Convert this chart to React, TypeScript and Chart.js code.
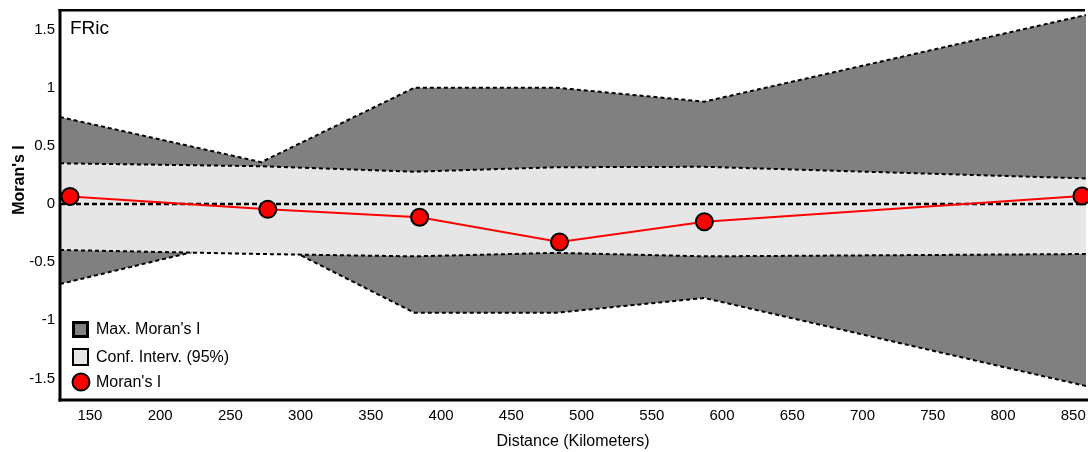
import React, { useEffect, useRef } from "react";
import { Chart, registerables } from "chart.js";

Chart.register(...registerables);

// ---- data ----
const bandDistances = [128.7, 272, 381, 482, 587.4, 859.1];
const maxMoranUpper = [0.748, 0.36, 1.0, 1.0, 0.88, 1.625];
const maxMoranLower = [-0.688, -0.27, -0.935, -0.935, -0.808, -1.565];
const confUpper = [0.35, 0.325, 0.278, 0.316, 0.32, 0.22];
const confLower = [-0.395, -0.43, -0.45, -0.42, -0.45, -0.43];
const moranDistances = [135.8, 276.6, 384.7, 484.3, 587.4, 856.2];
const moranValues = [0.065, -0.046, -0.114, -0.327, -0.152, 0.069];
const xRange = [128.7, 859.1];
const yRange = [-1.685, 1.668];
const legendLabels = ["Max. Moran's I", "Conf. Interv. (95%)", "Moran's I"];
const panelLabel = "FRic";
const xTitle = "Distance (Kilometers)";
const yTitle = "Moran's I";

const FONT = "'Liberation Sans', Arial, sans-serif";
const DARK = "#808080";
const LIGHT = "#e6e6e6";
const RED = "#ff0000";

const pts = (xs: number[], ys: number[]) => xs.map((x, i) => ({ x, y: ys[i] }));

const decorPlugin = {
  id: "decor",
  afterDatasetsDraw(chart: any) {
    const { ctx, chartArea: a } = chart;
    ctx.save();
    ctx.strokeStyle = "#000";
    ctx.setLineDash([]);
    // top border
    ctx.lineWidth = 2.5;
    ctx.beginPath();
    ctx.moveTo(a.left - 1.5, a.top + 0.3);
    ctx.lineTo(a.right - 1, a.top + 0.3);
    ctx.stroke();
    // left border
    ctx.lineWidth = 3;
    ctx.beginPath();
    ctx.moveTo(a.left, a.top - 1);
    ctx.lineTo(a.left, a.bottom + 1.5);
    ctx.stroke();
    // bottom border
    ctx.beginPath();
    ctx.moveTo(a.left - 1.5, a.bottom);
    ctx.lineTo(chart.width, a.bottom);
    ctx.stroke();
    ctx.restore();
  },
  afterDraw(chart: any) {
    const { ctx, chartArea: a } = chart;
    const ds = chart.data.datasets;
    ctx.save();
    ctx.setLineDash([]);
    // panel label
    ctx.fillStyle = "#000";
    ctx.font = `19px ${FONT}`;
    ctx.textAlign = "left";
    ctx.textBaseline = "alphabetic";
    ctx.fillText(panelLabel, a.left + 10, a.top + 24);

    // y axis title
    ctx.save();
    ctx.translate(20, 180);
    ctx.rotate(-Math.PI / 2);
    ctx.font = `bold 16px ${FONT}`;
    ctx.textAlign = "center";
    ctx.textBaseline = "middle";
    ctx.fillStyle = "#000";
    ctx.fillText(yTitle, 0, 0);
    ctx.restore();

    // legend
    const lx = a.left + 12;
    const ty = [329, 357, 382];
    ctx.fillStyle = ds[5].backgroundColor;
    ctx.fillRect(lx, ty[0] - 8, 17, 17);
    ctx.lineWidth = 3;
    ctx.strokeStyle = "#000";
    ctx.strokeRect(lx + 1.5, ty[0] - 8 + 1.5, 14, 14);
    ctx.fillStyle = ds[3].backgroundColor;
    ctx.fillRect(lx, ty[1] - 9, 17, 18);
    ctx.lineWidth = 2;
    ctx.strokeRect(lx + 1, ty[1] - 9 + 1, 15, 16);
    ctx.beginPath();
    ctx.arc(lx + 9, ty[2], 8.5, 0, Math.PI * 2);
    ctx.fillStyle = ds[0].pointBackgroundColor;
    ctx.fill();
    ctx.lineWidth = 2;
    ctx.stroke();

    ctx.fillStyle = "#000";
    ctx.font = `16px ${FONT}`;
    ctx.textAlign = "left";
    ctx.textBaseline = "middle";
    legendLabels.forEach((t, i) => ctx.fillText(t, lx + 24, ty[i] + 1));
    ctx.restore();
  },
};

export default function App() {
  const ref = useRef<HTMLCanvasElement | null>(null);

  useEffect(() => {
    document.body.style.margin = "0";
    const canvas = ref.current;
    if (!canvas) return;
    const dashed = {
      borderColor: "#000",
      borderWidth: 2,
      borderDash: [4, 3],
      pointRadius: 0,
      tension: 0,
    };
    const chart = new Chart(canvas, {
      type: "line",
      data: {
        datasets: [
          {
            label: legendLabels[2],
            data: pts(moranDistances, moranValues),
            borderColor: RED,
            borderWidth: 2,
            pointRadius: 8.5,
            pointBackgroundColor: RED,
            pointBorderColor: "#000",
            pointBorderWidth: 2,
            fill: false,
            clip: false,
            order: 0,
          },
          {
            label: "zero",
            data: pts(xRange, [0, 0]),
            ...dashed,
            borderWidth: 2.5,
            borderDash: [5, 3],
            fill: false,
            order: 1,
          },
          {
            label: "confLower",
            data: pts(bandDistances, confLower),
            ...dashed,
            fill: false,
            order: 2,
          },
          {
            label: legendLabels[1],
            data: pts(bandDistances, confUpper),
            ...dashed,
            backgroundColor: LIGHT,
            fill: "-1",
            order: 3,
          },
          {
            label: "maxLower",
            data: pts(bandDistances, maxMoranLower),
            ...dashed,
            fill: false,
            order: 4,
          },
          {
            label: legendLabels[0],
            data: pts(bandDistances, maxMoranUpper),
            ...dashed,
            backgroundColor: DARK,
            fill: "-1",
            order: 5,
          },
        ],
      } as any,
      options: {
        responsive: false,
        animation: false,
        devicePixelRatio: 1,
        layout: { autoPadding: false, padding: { top: 10, right: 2, left: 0, bottom: 0 } },
        plugins: {
          legend: { display: false },
          tooltip: { enabled: false },
          filler: { propagate: false },
        },
        scales: {
          x: {
            type: "linear",
            min: xRange[0],
            max: xRange[1],
            grid: { display: false, drawTicks: false },
            border: { display: false },
            ticks: {
              stepSize: 50,
              includeBounds: false,
              padding: 7,
              color: "#000",
              maxRotation: 0,
              autoSkip: false,
              font: { family: FONT, size: 15 },
            },
            title: {
              display: true,
              text: xTitle,
              color: "#000",
              font: { family: FONT, size: 16 },
              padding: { top: 0, bottom: 1 },
            },
            afterFit: (s: any) => {
              s.height = 52;
              s.paddingLeft = 0;
              s.paddingRight = 0;
            },
          },
          y: {
            type: "linear",
            min: yRange[0],
            max: yRange[1],
            grid: { display: false, drawTicks: false },
            border: { display: false },
            ticks: {
              stepSize: 0.5,
              includeBounds: false,
              padding: 5,
              color: "#000",
              font: { family: FONT, size: 15 },
              callback: (v: any) => String(Math.round(Number(v) * 10) / 10),
            },
            afterFit: (s: any) => {
              s.width = 60;
              s.paddingTop = 0;
              s.paddingBottom = 0;
            },
          },
        },
      } as any,
      plugins: [decorPlugin],
    });
    return () => chart.destroy();
  }, []);

  return (
    <div style={{ width: 1088, height: 452 }}>
      <canvas ref={ref} width={1088} height={452} style={{ display: "block" }} />
    </div>
  );
}
